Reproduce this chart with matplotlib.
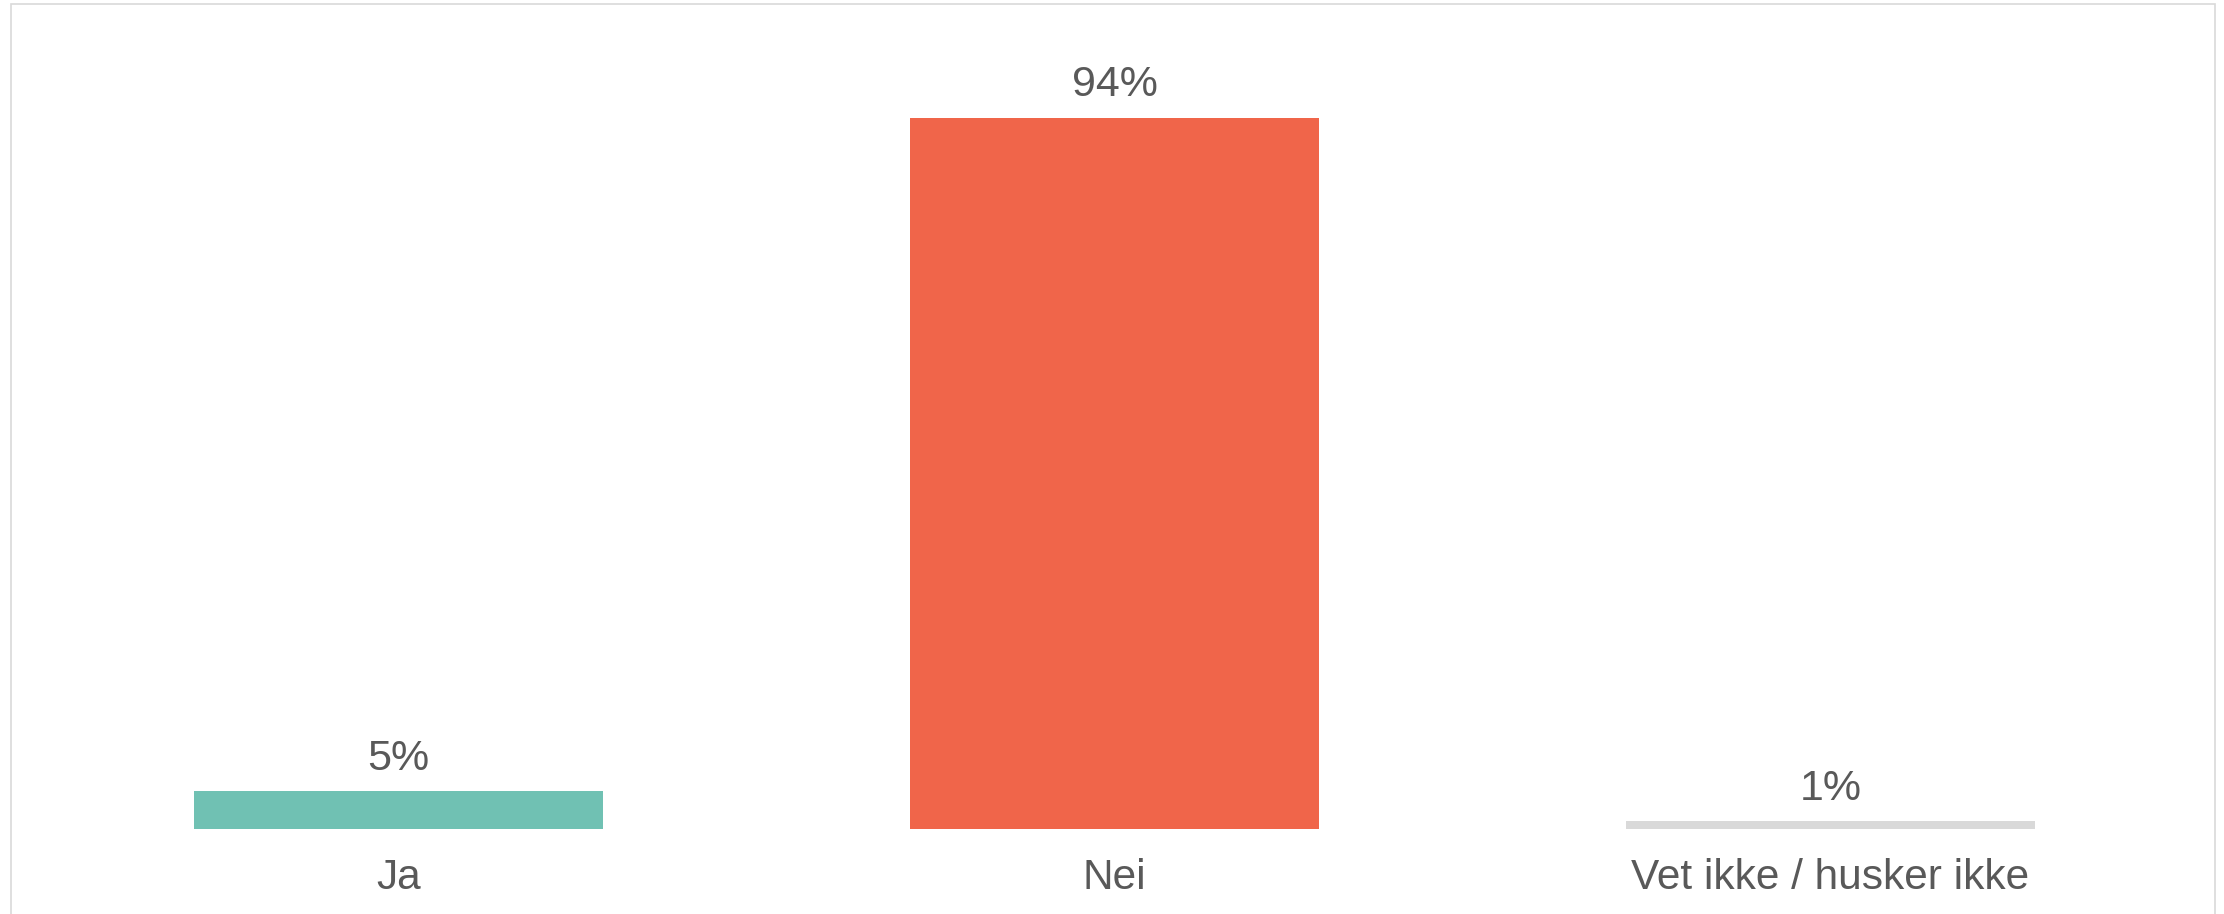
import matplotlib.pyplot as plt
from matplotlib.patches import Rectangle

# Data
categories = ["Ja", "Nei", "Vet ikke / husker ikke"]
values = [5, 94, 1]
bar_colors = ["#70C1B3", "#F0654A", "#D9D9D9"]
value_labels = ["5%", "94%", "1%"]

plt.rcParams['font.family'] = ['Liberation Sans', 'DejaVu Sans']

W, H = 2224, 914
fig = plt.figure(figsize=(W / 100, H / 100), dpi=100)

# thin grey frame round the whole picture
fig.patches.append(Rectangle((11 / W, -0.05), (2215 - 11) / W, 1.05 - 4 / H,
                             transform=fig.transFigure, fill=False,
                             edgecolor="#D9D9D9", linewidth=1.2))

ax = fig.add_axes([40.5 / W, (H - 829) / H, 2148 / W, 756.4 / H])
bars = ax.bar(range(len(categories)), values, width=0.571, color=bar_colors)
ax.bar_label(bars, labels=value_labels, padding=9, fontsize=31, color="#595959")

ax.set_xlim(-0.5, len(categories) - 0.5)
ax.set_ylim(0, 100)
ax.set_xticks(range(len(categories)))
ax.set_xticklabels(categories, fontsize=30.5, color="#595959")
ax.tick_params(axis='x', length=0, pad=21)
ax.set_yticks([])
for s in ax.spines.values():
    s.set_visible(False)
ax.patch.set_alpha(0)

fig.savefig("out.png", dpi=100)
